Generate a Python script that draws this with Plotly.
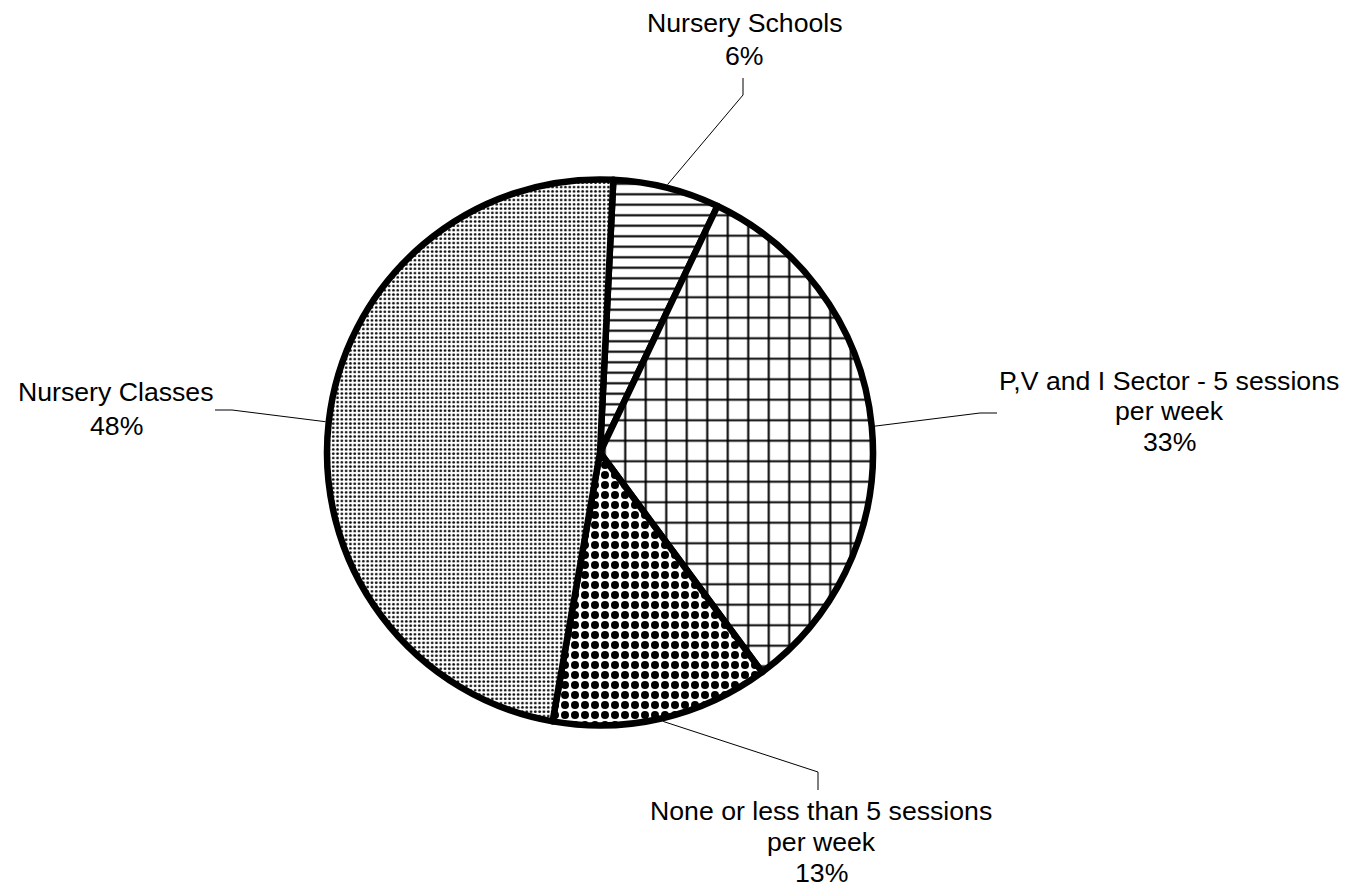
import math
import plotly.graph_objects as go

# ---------------- data ----------------
labels = [
    "Nursery Schools",
    "P,V and I Sector - 5 sessions per week",
    "None or less than 5 sessions per week",
    "Nursery Classes",
]
label_lines = [
    ["Nursery Schools"],
    ["P,V and I Sector - 5 sessions", "per week"],
    ["None or less than 5 sessions", "per week"],
    ["Nursery Classes"],
]
values = [6.3, 32.8, 12.9, 48.0]
start_angle = 2.8  # degrees clockwise from 12 o'clock

# ---------------- layout / style ----------------
W, H = 1354, 891
CX, CY, R = 600.0, 452.5, 273.0   # pie centre and radius (px)
BORDER = 6.5
FONT = dict(family="Liberation Sans, Arial, sans-serif", size=26.67, color="black")

pattern_shape = ["-", "+", ".", "."]
pattern_size = [10.5, 20.5, 10, 4.3]
pattern_solidity = [0.2, 0.19, 0.5, 0.33]
pattern_fg = ["black", "black", "black", "#111111"]

# label placement (px, top-left origin): centre x, first-line middle y, line gap
label_x = [744.5, 1169, 821, 116]
label_y0 = [22.8, 381, 811, 392.5]
line_gap = [33.4, 30.5, 31, 33]
leader_elbow = [(743, 95), (980, 413), (818, 772), (232, 410)]
leader_end = [(743, 78), (997, 413), (818, 790), (215, 410)]


def px(x, y):
    return x / W, 1 - y / H


fig = go.Figure()
fig.add_trace(
    go.Pie(
        labels=labels,
        values=values,
        sort=False,
        direction="clockwise",
        rotation=start_angle,
        textinfo="none",
        hoverinfo="label+percent",
        showlegend=False,
        domain=dict(x=[(CX - R) / W, (CX + R) / W], y=[(H - CY - R) / H, (H - CY + R) / H]),
        marker=dict(
            colors=["white"] * len(values),
            line=dict(color="black", width=BORDER),
            pattern=dict(
                shape=pattern_shape,
                size=pattern_size,
                solidity=pattern_solidity,
                fgcolor=pattern_fg,
                bgcolor=["white"] * len(values),
                fillmode="replace",
            ),
        ),
    )
)

total = sum(values)
shapes = []
annotations = []
cum = 0.0
for i, v in enumerate(values):
    mid = math.radians(start_angle + (cum + v / 2) / total * 360)
    cum += v
    rr = R + BORDER / 2
    sx, sy = CX + rr * math.sin(mid), CY - rr * math.cos(mid)
    ex, ey = leader_elbow[i]
    tx, ty = leader_end[i]
    p0, p1, p2 = px(sx, sy), px(ex, ey), px(tx, ty)
    shapes.append(
        dict(
            type="path",
            xref="paper",
            yref="paper",
            path=f"M{p0[0]},{p0[1]} L{p1[0]},{p1[1]} L{p2[0]},{p2[1]}",
            line=dict(color="black", width=1),
            layer="above",
        )
    )
    lines = label_lines[i] + [f"{round(v / total * 100)}%"]
    for j, t in enumerate(lines):
        ax, ay = px(label_x[i], label_y0[i] + j * line_gap[i])
        annotations.append(
            dict(
                x=ax, y=ay, xref="paper", yref="paper", text=t, showarrow=False,
                xanchor="center", yanchor="middle", font=FONT,
            )
        )

fig.update_layout(
    width=W,
    height=H,
    margin=dict(l=0, r=0, t=0, b=0),
    paper_bgcolor="white",
    plot_bgcolor="white",
    shapes=shapes,
    annotations=annotations,
    font=FONT,
)

fig.write_html(
    "out.html",
    config={"displayModeBar": False},
    post_script="document.body.style.margin='0';",
)
